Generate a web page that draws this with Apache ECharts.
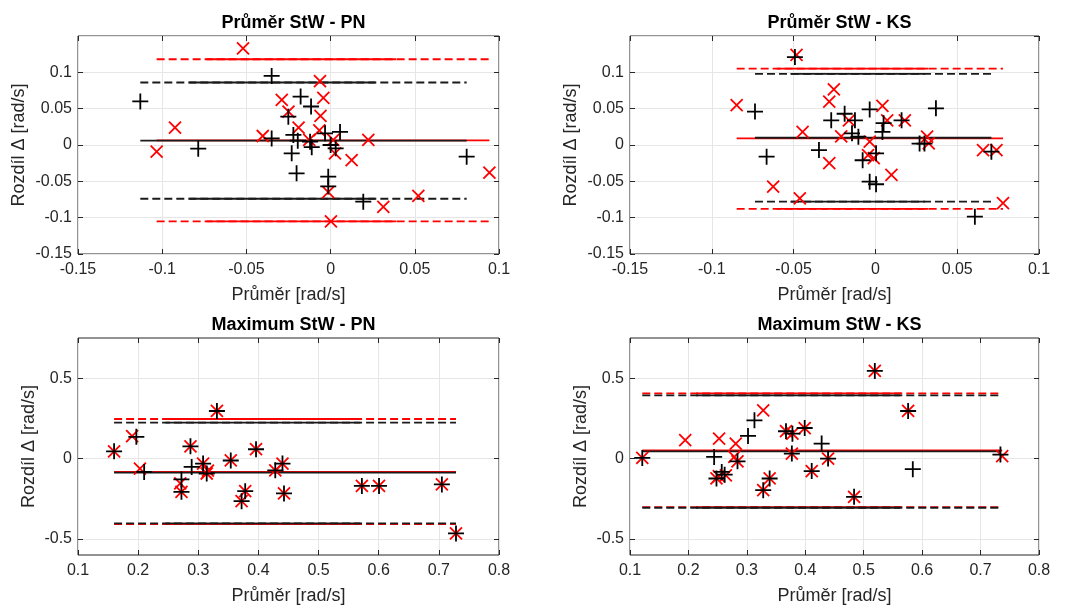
<!DOCTYPE html>
<html><head><meta charset="utf-8">
<script src="https://cdn.jsdelivr.net/npm/echarts@6/dist/echarts.min.js"></script>
<style>html,body{margin:0;padding:0;background:#fff}#c{width:1067px;height:606px}</style>
</head><body><div id="c"></div><script>
// ---- texts ----
const titles = ['Průměr StW - PN', 'Průměr StW - KS', 'Maximum StW - PN', 'Maximum StW - KS'];
const xLabel = 'Průměr [rad/s]';
const yLabel = 'Rozdíl Δ [rad/s]';

// ---- axis ranges / ticks ----
const topXAxis = [-0.15, 0.1, 0.05];       // min, max, interval
const topYAxis = [-0.15, 0.15, 0.05];
const bottomXAxis = [0.1, 0.8, 0.1];
const bottomYAxis = [-0.6, 0.75];
const bottomYTicks = [-0.5, 0, 0.5];

// ---- panel 1: Průměr StW - PN ----
const p1BlackX = [-0.113, -0.0786, -0.035, -0.035, -0.0178, -0.0116, -0.0251, -0.0221, -0.0195, -0.0122, -0.0112, -0.0231, -0.0202, -0.0033, 0.0056, 0.0, 0.003, -0.0014, -0.0014, 0.0194, 0.0808];
const p1BlackY = [0.060, -0.005, 0.095, 0.009, 0.0666, 0.053, 0.039, 0.0138, 0.006, 0.0046, -0.003, -0.0115, -0.039, 0.016, 0.018, 0.0, -0.0046, -0.0436, -0.057, -0.078, -0.016];
const p1RedX = [-0.052, -0.0924, -0.1033, -0.0403, -0.029, -0.025, -0.019, -0.0063, -0.0043, -0.006, -0.0067, -0.0127, 0.0016, 0.0026, 0.0125, 0.0224, 0.0313, 0.0521, 0.0943, -0.0014, 0.0002];
const p1RedY = [0.133, 0.024, -0.009, 0.0124, 0.062, 0.046, 0.024, 0.088, 0.065, 0.040, 0.020, 0.007, 0.007, -0.0115, -0.0207, 0.007, -0.085, -0.070, -0.038, -0.065, -0.105];
const p1BlackStats = [-0.074, 0.006, 0.086];   // lower limit, mean, upper limit
const p1RedStats = [-0.105, 0.0065, 0.118];

// ---- panel 2: Průměr StW - KS ----
const p2BlackX = [-0.0492, -0.0736, -0.0665, -0.0345, -0.027, -0.0188, -0.0125, -0.0143, -0.0104, -0.0078, -0.0035, -0.0035, 0.0004, 0.0004, 0.005, 0.0043, 0.016, 0.027, 0.030, 0.037, 0.0608, 0.0709];
const p2BlackY = [0.121, 0.046, -0.016, -0.007, 0.034, 0.043, 0.034, 0.016, 0.0115, -0.021, 0.049, -0.0505, -0.054, -0.0115, 0.030, 0.018, 0.034, 0.002, 0.002, 0.0505, -0.0987, -0.0092];
const p2RedX = [-0.0848, -0.0482, -0.0625, -0.0462, -0.0445, -0.0254, -0.0282, -0.0282, -0.0209, -0.0162, -0.0035, -0.0045, -0.001, 0.0043, 0.0072, 0.0098, 0.018, 0.0316, 0.0326, 0.0658, 0.074, 0.078];
const p2RedY = [0.055, 0.124, -0.0574, -0.0734, 0.018, 0.0767, 0.0597, -0.025, 0.012, 0.034, 0.0046, -0.014, -0.018, 0.0537, 0.034, -0.041, 0.034, 0.0115, 0.0023, -0.007, -0.007, -0.080];
const p2BlackStats = [-0.078, 0.010, 0.098];
const p2RedStats = [-0.088, 0.009, 0.105];

// ---- panel 3: Maximum StW - PN ----
const p3BlackX = [0.160, 0.197, 0.210, 0.287, 0.272, 0.272, 0.289, 0.308, 0.314, 0.354, 0.396, 0.378, 0.372, 0.428, 0.440, 0.4425, 0.331, 0.572, 0.6005, 0.705, 0.7285];
const p3BlackY = [0.045, 0.135, -0.083, 0.076, -0.13, -0.207, -0.052, -0.031, -0.093, -0.012, 0.058, -0.203, -0.265, -0.073, -0.031, -0.217, 0.296, -0.170, -0.170, -0.161, -0.466];
const p3RedX = [0.160, 0.190, 0.203, 0.287, 0.270, 0.272, 0.316, 0.308, 0.314, 0.354, 0.396, 0.378, 0.372, 0.428, 0.440, 0.4425, 0.331, 0.572, 0.6005, 0.705, 0.7285];
const p3RedY = [0.045, 0.14, -0.062, 0.076, -0.155, -0.207, -0.075, -0.031, -0.093, -0.012, 0.058, -0.203, -0.265, -0.073, -0.031, -0.217, 0.296, -0.170, -0.170, -0.161, -0.466];
const p3BlackStats = [-0.403, -0.088, 0.224];
const p3RedStats = [-0.408, -0.083, 0.246];

// ---- panel 4: Maximum StW - KS ----
const p4BlackX = [0.121, 0.248, 0.257, 0.262, 0.284, 0.328, 0.339, 0.367, 0.378, 0.377, 0.399, 0.411, 0.439, 0.4835, 0.519, 0.576, 0.734, 0.244, 0.302, 0.313, 0.428, 0.584];
const p4BlackY = [0.004, -0.124, -0.083, -0.100, -0.017, -0.197, -0.124, 0.170, 0.155, 0.031, 0.190, -0.078, 0.0, -0.238, 0.545, 0.296, 0.025, 0.010, 0.141, 0.238, 0.093, -0.066];
const p4RedX = [0.121, 0.248, 0.252, 0.264, 0.284, 0.328, 0.339, 0.367, 0.378, 0.377, 0.399, 0.411, 0.439, 0.4835, 0.519, 0.576, 0.737, 0.1945, 0.2525, 0.281, 0.2785, 0.328];
const p4RedY = [0.004, -0.124, -0.110, -0.104, -0.017, -0.197, -0.124, 0.170, 0.155, 0.031, 0.190, -0.078, 0.0, -0.238, 0.545, 0.296, 0.015, 0.114, 0.124, 0.093, 0.010, 0.30];
const p4BlackStats = [-0.306, 0.045, 0.393];
const p4RedStats = [-0.302, 0.050, 0.405];

// ---- assemble ----
const panels = [
  {bx: p1BlackX, by: p1BlackY, rx: p1RedX, ry: p1RedY, bs: p1BlackStats, rs: p1RedStats},
  {bx: p2BlackX, by: p2BlackY, rx: p2RedX, ry: p2RedY, bs: p2BlackStats, rs: p2RedStats},
  {bx: p3BlackX, by: p3BlackY, rx: p3RedX, ry: p3RedY, bs: p3BlackStats, rs: p3RedStats},
  {bx: p4BlackX, by: p4BlackY, rx: p4RedX, ry: p4RedY, bs: p4BlackStats, rs: p4RedStats}
];
const layout = [
  {left: 78, top: 36, width: 421, height: 218, yGap: 50},
  {left: 630, top: 36, width: 409, height: 218, yGap: 50},
  {left: 78, top: 338, width: 421, height: 218, yGap: 40},
  {left: 630, top: 338, width: 409, height: 218, yGap: 40}
];
const AX = '#262626', GRIDC = '#e6e6e6', FONT = 'Liberation Sans, Arial, sans-serif';
const PLUS = 'path://M8,0L8,16M0,8L16,8';
const CROSS = 'path://M0,0L12,12M12,0L0,12';
const zip = (xs, ys) => xs.map((x, i) => [x, ys[i]]);

const grid = [], xAxis = [], yAxis = [], series = [], title = [];
panels.forEach((p, i) => {
  const L = layout[i];
  const isTop = i < 2;
  grid.push({left: L.left, top: L.top, width: L.width, height: L.height, show: true,
    borderColor: AX, borderWidth: 1, backgroundColor: '#fff'});
  title.push({text: titles[i], left: L.left + L.width / 2, textAlign: 'center', top: L.top - 27,
    textStyle: {fontSize: 18, fontWeight: 'bold', color: '#000', fontFamily: FONT}});
  const xr = isTop ? topXAxis : bottomXAxis;
  const tickCommon = {inside: true, length: 5, lineStyle: {color: AX, width: 1}};
  const noLine = {show: false, onZero: false};
  xAxis.push({gridIndex: i, type: 'value', min: xr[0], max: xr[1], interval: xr[2], position: 'bottom',
    name: xLabel, nameLocation: 'middle', nameGap: 32,
    nameTextStyle: {fontSize: 18, color: AX, fontFamily: FONT},
    axisLine: noLine, axisTick: tickCommon,
    axisLabel: {fontSize: 16, color: AX, margin: 8, fontFamily: FONT},
    splitLine: {show: true, lineStyle: {color: GRIDC, width: 1}}});
  xAxis.push({gridIndex: i, type: 'value', min: xr[0], max: xr[1], interval: xr[2], position: 'top',
    axisLine: noLine, axisTick: tickCommon, axisLabel: {show: false}, splitLine: {show: false}});
  let yMain, yMirror;
  if (isTop) {
    yMain = {min: topYAxis[0], max: topYAxis[1], interval: topYAxis[2], axisTick: tickCommon};
    yMirror = {min: topYAxis[0], max: topYAxis[1], interval: topYAxis[2], axisTick: tickCommon};
  } else {
    yMain = {min: bottomYAxis[0], max: bottomYAxis[1],
      axisTick: Object.assign({customValues: bottomYTicks}, tickCommon)};
    yMirror = {min: bottomYAxis[0], max: bottomYAxis[1],
      axisTick: Object.assign({customValues: bottomYTicks}, tickCommon)};
  }
  yAxis.push(Object.assign({gridIndex: i, type: 'value', position: 'left',
    name: yLabel, nameLocation: 'middle', nameGap: L.yGap,
    nameTextStyle: {fontSize: 18, color: AX, fontFamily: FONT},
    axisLine: noLine,
    axisLabel: Object.assign({fontSize: 16, color: AX, margin: 6, fontFamily: FONT, showMaxLabel: !isTop},
      isTop ? {} : {customValues: bottomYTicks}),
    splitLine: {show: true, lineStyle: {color: GRIDC, width: 1}}}, yMain));
  yAxis.push(Object.assign({gridIndex: i, type: 'value', position: 'right',
    axisLine: noLine, axisLabel: {show: false}, splitLine: {show: false}}, yMirror));

  const xi = i * 2, yi = i * 2;
  const addLines = (xs, stats, color, z) => {
    const x0 = Math.min(...xs), x1 = Math.max(...xs);
    const s0 = x0 + (x1 - x0) * 0.15, s1 = x0 + (x1 - x0) * 0.72;
    stats.forEach((v, k) => {
      const isMean = k === 1;
      series.push({type: 'line', xAxisIndex: xi, yAxisIndex: yi, data: [[x0, v], [x1, v]],
        symbol: 'none', silent: true, z: z, animation: false,
        lineStyle: {color: color, width: 1.8, type: isMean ? 'solid' : [8, 4]}});
      if (!isMean) {
        series.push({type: 'line', xAxisIndex: xi, yAxisIndex: yi, data: [[s0, v], [s1, v]],
          symbol: 'none', silent: true, z: z, animation: false,
          lineStyle: {color: color, width: 1.8, type: 'solid'}});
      }
    });
  };
  addLines(p.rx, p.rs, '#ff0000', 2);
  addLines(p.bx, p.bs, '#1a1a1a', 3);
  series.push({type: 'scatter', xAxisIndex: xi, yAxisIndex: yi, data: zip(p.rx, p.ry),
    symbol: CROSS, symbolSize: 12, z: 4, animation: false, silent: true,
    itemStyle: {color: '#ff0000', borderColor: '#ff0000', borderWidth: 1.8, opacity: 1}});
  series.push({type: 'scatter', xAxisIndex: xi, yAxisIndex: yi, data: zip(p.bx, p.by),
    symbol: PLUS, symbolSize: 16, z: 5, animation: false, silent: true,
    itemStyle: {color: '#000', borderColor: '#000', borderWidth: 1.8, opacity: 1}});
});

const chart = echarts.init(document.getElementById('c'), null, {renderer: 'canvas'});
chart.setOption({backgroundColor: '#fff', animation: false, title, grid, xAxis, yAxis, series,
  textStyle: {fontFamily: FONT}});
</script></body></html>
